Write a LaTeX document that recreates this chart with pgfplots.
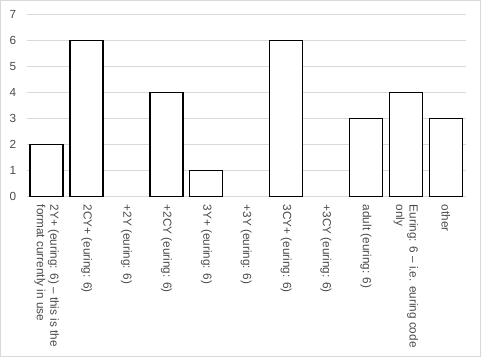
\documentclass[border=0pt]{standalone}
\usepackage{fontspec}
\setmainfont{Liberation Sans}
\usepackage{pgfplots}
\pgfplotsset{compat=1.18}
\definecolor{txt}{HTML}{4A4A4A}
\definecolor{gridc}{HTML}{D9D9D9}
\begin{document}
\begin{tikzpicture}
\begin{axis}[
  at={(0,0)}, anchor=south west,
  scale only axis, width=439bp, height=182bp,
  xmin=-0.5, xmax=10.5, ymin=0, ymax=7,
  ytick={0,...,7},
  xtick={0,...,10},
  xticklabels={
    {2Y+ (euring: 6) -- this is the\\format currently in use},
    {2CY+ (euring: 6)},
    {+2Y (euring: 6)},
    {+2CY (euring: 6)},
    {3Y+ (euring: 6)},
    {+3Y (euring: 6)},
    {3CY+ (euring: 6)},
    {+3CY (euring: 6)},
    {adult (euring: 6)},
    {Euring: 6 -- i.e. euring code\\only},
    {other}},
  axis x line*=bottom, axis y line*=left,
  y axis line style={draw=none},
  x axis line style={draw=gridc, line width=0.75bp},
  major tick length=0pt,
  ymajorgrids, grid style={draw=gridc, line width=0.75bp},
  /pgf/number format/assume math mode=true,
  ticklabel style={font=\fontsize{11.8}{13.5}\selectfont, text=txt},
  yticklabel style={xshift=-7bp},
  xticklabel style={rotate=-90, anchor=west, align=left, inner xsep=8bp},
  ybar, bar width=33bp,
]
\addplot[fill=white, draw=black, line width=1.4bp] coordinates {
  (0,2) (1,6) (3,4) (4,1) (6,6) (8,3) (9,4) (10,3)
};
\end{axis}
\pgfresetboundingbox
\useasboundingbox (-26.7bp,-160.3bp) rectangle (454.3bp,196.7bp);
\draw[gridc, line width=1bp] (-26.2bp,-159.8bp) rectangle (453.8bp,196.2bp);
\end{tikzpicture}
\end{document}
